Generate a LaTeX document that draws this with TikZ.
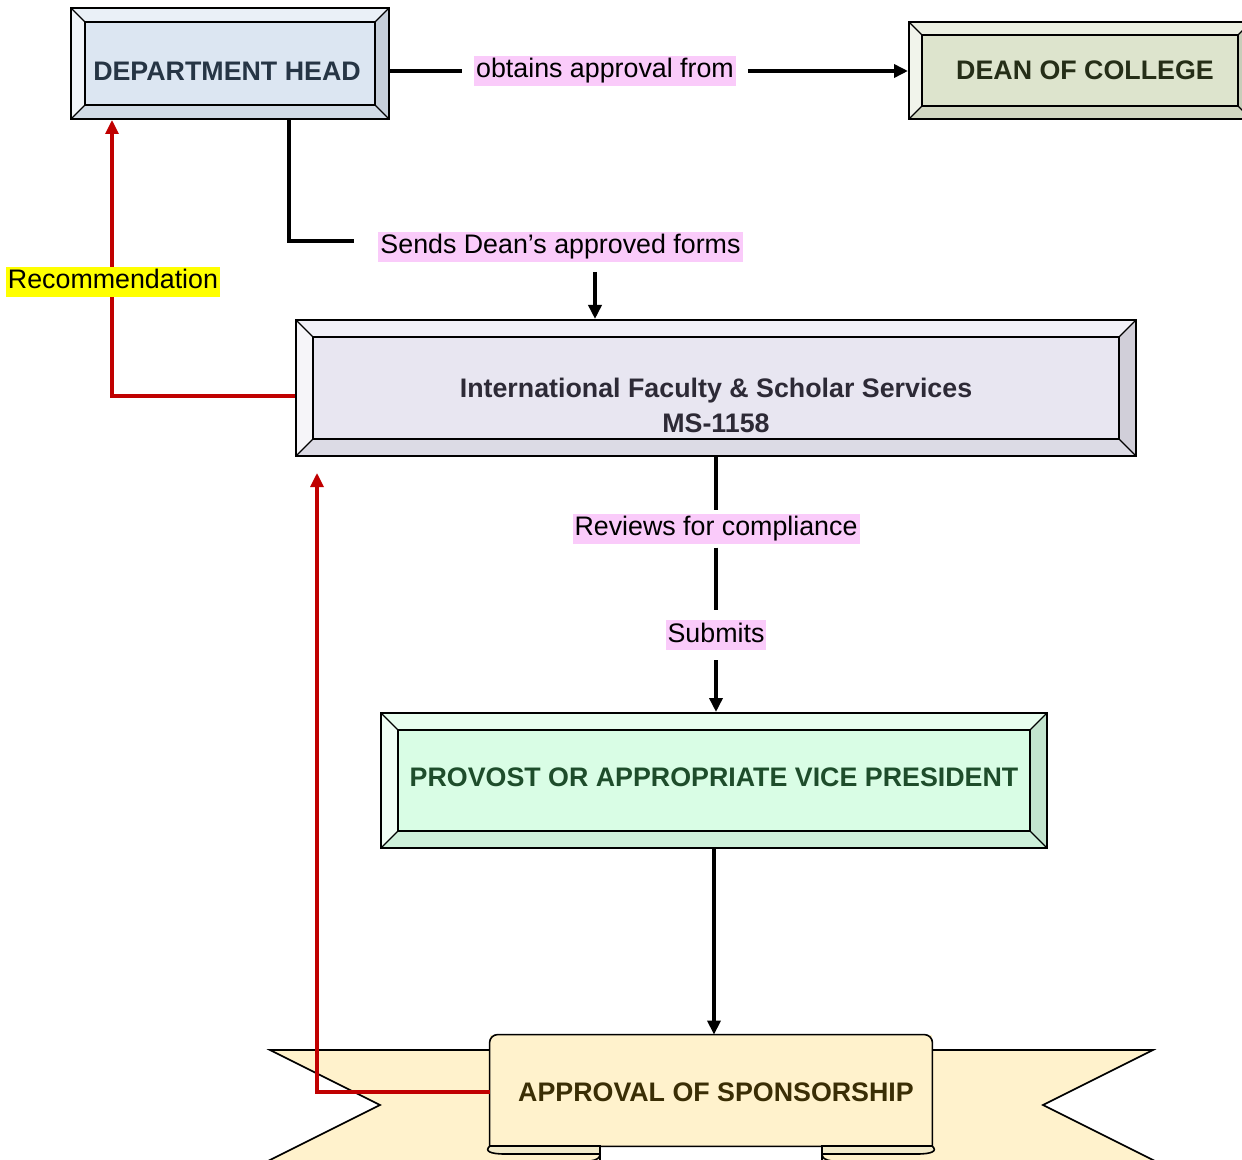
\documentclass[tikz,border=0pt]{standalone}
\usepackage{fontspec}
\setmainfont{Liberation Sans}
\usetikzlibrary{arrows.meta}

\definecolor{dhfill}{HTML}{DCE6F2}
\definecolor{deanfill}{HTML}{DDE4CD}
\definecolor{ifssfill}{HTML}{E8E6F1}
\definecolor{provfill}{HTML}{D9FDE5}
\definecolor{ribbonfill}{HTML}{FFF2CC}
\definecolor{curlfill}{HTML}{F2EBCB}
\definecolor{tagpink}{HTML}{FACBFA}
\definecolor{tagyellow}{HTML}{FFFF00}
\definecolor{recred}{HTML}{C00000}
\definecolor{dhtext}{HTML}{263545}
\definecolor{deantext}{HTML}{252E17}
\definecolor{ifsstext}{HTML}{2D2A36}
\definecolor{provtext}{HTML}{1E4D2B}
\definecolor{apprtext}{HTML}{3A2E05}

\tikzset{
  bevelbox/.style 2 args={draw, line width=1pt, fill=#1, inner sep=0pt,
    path picture={
      \path (path picture bounding box.north west) coordinate (bvnw)
            (path picture bounding box.north east) coordinate (bvne)
            (path picture bounding box.south west) coordinate (bvsw)
            (path picture bounding box.south east) coordinate (bvse);
      \fill[#1!60!white] (bvnw) -- (bvne) -- ([shift={(-#2,-#2)}]bvne) -- ([shift={(#2,-#2)}]bvnw) -- cycle;
      \fill[#1!40!white] (bvnw) -- ([shift={(#2,-#2)}]bvnw) -- ([shift={(#2,#2)}]bvsw) -- (bvsw) -- cycle;
      \fill[#1!90!black] (bvne) -- (bvse) -- ([shift={(-#2,#2)}]bvse) -- ([shift={(-#2,-#2)}]bvne) -- cycle;
      \fill[#1!95!black] (bvsw) -- (bvse) -- ([shift={(-#2,#2)}]bvse) -- ([shift={(#2,#2)}]bvsw) -- cycle;
      \draw[line width=.6pt] (bvnw) -- ++(#2,-#2) (bvne) -- ++(-#2,-#2)
                             (bvsw) -- ++(#2,#2) (bvse) -- ++(-#2,#2);
      \draw[line width=1pt] ([shift={(#2,-#2)}]bvnw) rectangle ([shift={(-#2,#2)}]bvse);
    }},
  boxtext/.style={font=\fontsize{13.4}{17.5}\selectfont\bfseries, text=#1},
  tag/.style={fill=tagpink, inner xsep=1pt, inner ysep=1pt, text height=10pt,
    text depth=3pt, font=\fontsize{13.4}{15}\selectfont, outer sep=2pt},
  link/.style={line width=1.9pt},
  redlink/.style={line width=1.6pt, draw=recred},
}

\begin{document}
\begin{tikzpicture}[x=.5pt, y=-.5pt, >={Triangle[length=7pt,width=6.5pt]}]
\useasboundingbox (0,0) rectangle (1242,1160);

% boxes
\node [bevelbox={dhfill}{7pt}, minimum width=159pt, minimum height=55.5pt, boxtext=dhtext, text height=16.6pt, text depth=0pt] (dh) at (230,63.5) {DEPARTMENT HEAD\hspace*{3pt}};
\node [bevelbox={deanfill}{6.5pt}, minimum width=171pt, minimum height=48.5pt, boxtext=deantext] (dean) at (1080,70.5) {\hspace*{5pt}DEAN OF COLLEGE};
\node [bevelbox={ifssfill}{8.5pt}, minimum width=420pt, minimum height=68pt] (ifss) at (716,388) {};
\node [boxtext=ifsstext, align=center] (ifsslabel) at (716,405) {International Faculty \& Scholar Services\\MS-1158};
\node [bevelbox={provfill}{8.5pt}, minimum width=333pt, minimum height=67.5pt, boxtext=provtext, text height=9.6pt, text depth=4pt] (prov) at (714,780.5) {PROVOST OR APPROPRIATE VICE PRESIDENT};

% ribbon
\filldraw [fill=ribbonfill, line width=.8pt] (600,1050) -- (270,1050) -- (380,1105) -- (266,1162) -- (600,1162) -- cycle;
\filldraw [fill=ribbonfill, line width=.8pt] (822,1050) -- (1153,1050) -- (1043,1105) -- (1157,1162) -- (822,1162) -- cycle;
\node [fill=ribbonfill, inner sep=0pt, minimum width=221pt, minimum height=55.5pt, boxtext=apprtext, text height=11pt, text depth=0pt] (appr) at (711,1090.5) {\hspace*{5pt}APPROVAL OF SPONSORSHIP};
\draw [line width=.8pt] (appr.south west) [rounded corners=4pt] -- (appr.north west) -- (appr.north east) [sharp corners] -- (appr.south east) -- cycle;
\filldraw [fill=curlfill, line width=.8pt] (490,1146) .. controls (484,1151) and (490,1154) .. (505,1154) -- (600,1154) -- (600,1146) -- cycle;
\filldraw [fill=curlfill, line width=.8pt] (932,1146) .. controls (938,1151) and (932,1154) .. (917,1154) -- (822,1154) -- (822,1146) -- cycle;
\draw [line width=.8pt] (600,1154) .. controls (600,1158) and (597,1160) .. (590,1161);
\draw [line width=.8pt] (822,1154) .. controls (822,1158) and (825,1160) .. (832,1161);

% labels
\node [tag, outer sep=6pt] (obt) at (605,71) {obtains approval from};
\node [tag] (sends) at (560.5,247) {Sends Dean’s approved forms};
\node [tag] (rev) at (716,528.5) {Reviews for compliance};
\node [tag, outer sep=5pt] (sub) at (716,635) {Submits};
\coordinate (sendsbend) at (289,241);
\coordinate (sendsdrop) at (595,272);

% black connectors
\draw [link] (dh.east |- obt) -- (obt);
\draw [link, ->] (obt) -- (obt -| dean.west);
\draw [link] (dh.south -| sendsbend) -- (sendsbend) -- ([xshift=-10pt]sends.west |- sendsbend);
\draw [link, ->] (sendsdrop) -- (sendsdrop |- ifss.north);
\draw [link] (ifss.south) -- (rev);
\draw [link] (rev) -- (sub);
\draw [link, ->] (sub) -- (sub |- prov.north);
\draw [link, ->] (prov.south) -- (prov.south |- appr.north);

% red connectors
\coordinate (recbend) at (112,396);
\coordinate (apprbend) at (317,1092);
\draw [redlink, ->] (ifss.west |- recbend) -- (recbend) -- (recbend |- dh.south);
\node [tag, fill=tagyellow, outer sep=0pt] (rec) at (113,282) {Recommendation};
\draw [redlink, ->] (appr.west |- apprbend) -- (apprbend) -- ([yshift=-8pt]apprbend |- ifss.south);

\end{tikzpicture}
\end{document}
